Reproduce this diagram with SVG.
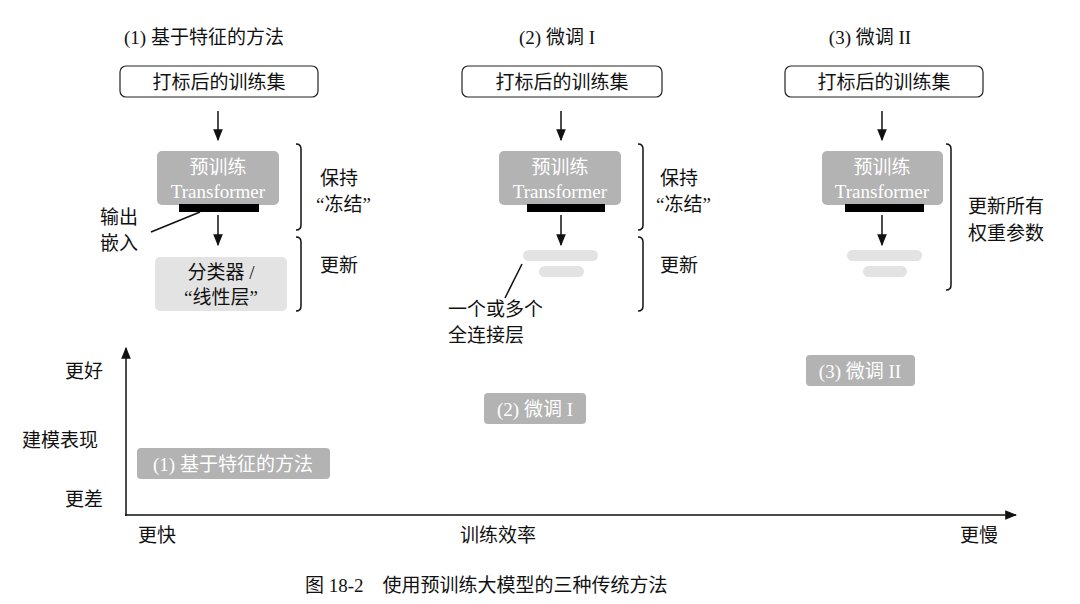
<svg xmlns="http://www.w3.org/2000/svg" width="1080" height="604" viewBox="0 0 1080 604">
<style>
text{font-family:"Liberation Serif","Noto Sans CJK SC",serif;font-size:19px;fill:#111}
.c{text-anchor:middle}
.w{fill:#fff}
.box{fill:#fff;stroke:#222;stroke-width:1.2}
.tf{fill:#b3b3b3}
.lt{fill:#e3e3e3}
.ln{stroke:#111;stroke-width:1.5;fill:none}
</style>
<defs><marker id="a" viewBox="0 0 10 10" refX="9" refY="5" markerWidth="8" markerHeight="8" orient="auto"><path d="M0,1 L10,5 L0,9 z" fill="#111"/></marker></defs>
<rect width="1080" height="604" fill="#fff"/>
<g id="titles">
<text class="c" x="204" y="44">(1) 基于特征的方法</text>
<text class="c" x="557" y="44">(2) 微调 I</text>
<text class="c" x="870" y="44">(3) 微调 II</text>
</g>
<g id="data1"><rect class="box" x="120" y="66" width="198" height="31" rx="6"/><text class="c" x="219" y="89">打标后的训练集</text></g>
<g id="data2"><rect class="box" x="462" y="66" width="200" height="31" rx="6"/><text class="c" x="562" y="89">打标后的训练集</text></g>
<g id="data3"><rect class="box" x="785" y="66" width="198" height="31" rx="6"/><text class="c" x="884" y="89">打标后的训练集</text></g>
<g id="tf1"><rect class="tf" x="157" y="151" width="122" height="54" rx="5"/><text class="c w" x="218" y="174">预训练</text><text class="c w" x="218" y="198">Transformer</text><rect x="179" y="204" width="80" height="8" fill="#000"/></g>
<g id="tf2"><rect class="tf" x="499" y="151" width="122" height="54" rx="5"/><text class="c w" x="560" y="174">预训练</text><text class="c w" x="560" y="198">Transformer</text><rect x="527" y="204" width="78" height="8" fill="#000"/></g>
<g id="tf3"><rect class="tf" x="822" y="151" width="121" height="54" rx="5"/><text class="c w" x="882" y="174">预训练</text><text class="c w" x="882" y="198">Transformer</text><rect x="845" y="204" width="79" height="8" fill="#000"/></g>
<g id="cls1"><rect class="lt" x="155" y="257" width="132" height="54" rx="5"/><text class="c" x="221" y="279">分类器 /</text><text class="c" x="221" y="304">“线性层”</text></g>
<g id="fc2"><rect class="lt" x="523" y="250" width="75" height="11" rx="5.5"/><rect class="lt" x="539" y="266" width="45" height="11" rx="5.5"/></g>
<g id="fc3"><rect class="lt" x="847" y="250" width="75" height="11" rx="5.5"/><rect class="lt" x="863" y="266" width="44" height="11" rx="5.5"/></g>
<g id="connectors">
<line class="ln" x1="218" y1="111" x2="218" y2="140" marker-end="url(#a)"/>
<line class="ln" x1="561" y1="111" x2="561" y2="140" marker-end="url(#a)"/>
<line class="ln" x1="882" y1="111" x2="882" y2="140" marker-end="url(#a)"/>
<line class="ln" x1="218" y1="215" x2="218" y2="245" marker-end="url(#a)"/>
<line class="ln" x1="561" y1="215" x2="561" y2="245" marker-end="url(#a)"/>
<line class="ln" x1="882" y1="215" x2="882" y2="245" marker-end="url(#a)"/>
<line class="ln" x1="151" y1="232" x2="200" y2="212" stroke-width="1.2"/>
<line class="ln" x1="522" y1="264" x2="505" y2="298" stroke-width="1.2"/>
<path class="ln" d="M296,144 q5,0 5,5 v76 q0,5 -5,5"/>
<path class="ln" d="M296,237 q5,0 5,5 v64 q0,5 -5,5"/>
<path class="ln" d="M638,144 q5,0 5,5 v76 q0,5 -5,5"/>
<path class="ln" d="M638,237 q5,0 5,5 v64 q0,5 -5,5"/>
<path class="ln" d="M946,144 q5,0 5,5 v136 q0,5 -5,5"/>
<line class="ln" x1="126" y1="516" x2="126" y2="348" marker-end="url(#a)"/>
<line class="ln" x1="125" y1="515" x2="1016" y2="515" marker-end="url(#a)"/>
</g>
<g id="labels">
<text x="320" y="185">保持</text><text x="316" y="211">“冻结”</text><text x="320" y="272">更新</text>
<text x="660" y="185">保持</text><text x="656" y="211">“冻结”</text><text x="660" y="272">更新</text>
<text x="968" y="213">更新所有</text><text x="968" y="240">权重参数</text>
<text x="100" y="224">输出</text><text x="100" y="250">嵌入</text>
<text x="448" y="316">一个或多个</text><text x="448" y="342">全连接层</text>
<text x="65" y="378">更好</text><text x="22" y="447">建模表现</text><text x="65" y="506">更差</text>
<text x="138" y="542">更快</text><text x="460" y="542">训练效率</text><text x="960" y="542">更慢</text>
</g>
<g id="p1"><rect class="tf" x="137" y="448" width="193" height="31" rx="4"/><text class="c w" x="233" y="471">(1) 基于特征的方法</text></g>
<g id="p2"><rect class="tf" x="484" y="393" width="102" height="31" rx="4"/><text class="c w" x="535" y="416">(2) 微调 I</text></g>
<g id="p3"><rect class="tf" x="806" y="355" width="109" height="31" rx="4"/><text class="c w" x="860" y="378">(3) 微调 II</text></g>
<text x="305" y="592">图 18-2　使用预训练大模型的三种传统方法</text>
</svg>
